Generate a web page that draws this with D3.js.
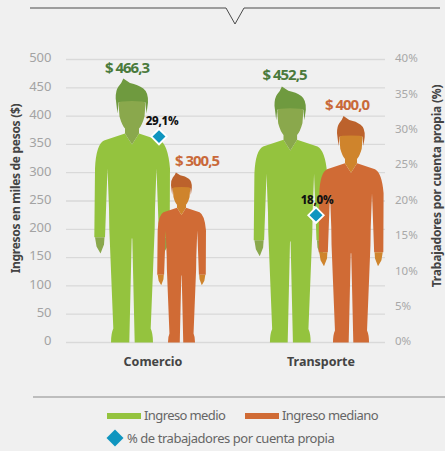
<!DOCTYPE html>
<html><head><meta charset="utf-8">
<script src="https://cdn.jsdelivr.net/npm/d3@7"></script>
<style>html,body{margin:0;padding:0;background:#f0f0f0}svg{display:block}text{font-family:"Noto Sans",sans-serif}</style>
</head><body><svg id="c" width="445" height="451"></svg>
<script>
const categories = ["Comercio","Transporte"];
const ingresoMedio = [466.3,452.5];
const ingresoMediano = [300.5,400.0];
const cuentaPropia = [29.1,18.0];
const leftTicks = [0,50,100,150,200,250,300,350,400,450,500];
const rightTicks = [0,5,10,15,20,25,30,35,40];
const fmtMoney = v => "$ " + v.toFixed(1).replace(".",",");
const fmtPct = v => v.toFixed(1).replace(".",",") + "%";

const svg = d3.select("#c");
const yL = d3.scaleLinear().domain([0,500]).range([342.5,59.5]);
const yR = d3.scaleLinear().domain([0,40]).range([342.5,59.5]);

// figure template: a person of 264 units high, feet at 264, top at 0
const FIG_H = 264;
const shape = {
  body:"M-7,55 L-28,62 Q-36,66 -37,90 L-37.7,158.7 L-27,158.7 L-24.5,90 L-23,130 L-22.7,150 L-18.7,250 Q-21,255 -21,264 L-2.7,264 L-.3,160 L.3,160 L2.7,264 L21,264 Q21,255 18.7,250 L22.7,150 L23,130 L24.5,90 L27,158.7 L37.7,158.7 L38,90 Q36,66 28,62 L7,55 L0,66 Z",
  skin:"M-13.5,25 Q-13,23 -10,23 Q0,22 10,23 Q13,23 13.5,25 L12.5,38 Q10,47 7,50 L7,55 L0,66 L-7,55 L-7,50 Q-10,47 -12.5,38 Z M-37,158.7 L-27.5,158.7 L-28,166 L-31.5,175 L-35.5,168 Z M37,158.7 L27.5,158.7 L28,166 L31.5,175 L35.5,168 Z",
  hair:"M-8.7,0 L-2,4.5 Q6,6 11.3,10 Q16.5,14 16,24 L14.5,35 L13.5,24 L-13.5,24 L-14.5,35 L-16.3,20 Q-16.5,12 -13.5,8 Q-10.5,5 -8.7,0 Z"
};
const palette = {
  medio:{body:"#94c33e",skin:"#8aa84c",hair:"#6f9a3f",label:"#4a7a3c"},
  mediano:{body:"#d06b35",skin:"#cf842c",hair:"#bc622c",label:"#c9693a"}
};
// horizontal layout of the figures and labels
const figX = d3.scaleOrdinal().domain(["Comercio/medio","Comercio/mediano","Transporte/medio","Transporte/mediano"]).range([132,181.5,290.3,351]);
const labX = d3.scaleOrdinal().domain(figX.domain()).range([127,197,284.5,347]);
const catX = d3.scaleOrdinal().domain(categories).range([153,321]);
const diaX = d3.scaleOrdinal().domain(categories).range([159,316]);
const diaLabX = d3.scaleOrdinal().domain(categories).range([162,317]);

// frame lines
svg.append("path").attr("d","M30,8 H226 L235,24 L244,8 H440").attr("fill","none").attr("stroke","#4a4a4a").attr("stroke-width",1);
svg.append("line").attr("x1",33).attr("x2",445).attr("y1",397).attr("y2",397).attr("stroke","#8a8a8a").attr("stroke-width",1.2);

// grid
svg.append("g").selectAll("line").data(leftTicks).join("line")
  .attr("x1",66).attr("x2",385).attr("y1",d=>yL(d)).attr("y2",d=>yL(d))
  .attr("stroke","#d9d9d9").attr("stroke-width",1.3);

// axes
svg.append("g").selectAll("text").data(leftTicks).join("text")
  .attr("x",51.5).attr("y",d=>yL(d)+2.8).attr("text-anchor","end")
  .attr("font-size",13).attr("fill","#a3a3a3").text(d=>d);
svg.append("g").selectAll("text").data(rightTicks).join("text")
  .attr("x",395).attr("y",d=>yR(d)+2.8).attr("font-size",11.5)
  .attr("fill","#a8a8a8").text(d=>d+"%");
svg.append("text").attr("transform","translate(20,188.5) rotate(-90)").attr("text-anchor","middle")
  .attr("font-size",12).attr("font-weight",700).attr("fill","#444").attr("letter-spacing",-0.3).text("Ingresos en miles de pesos ($)");
svg.append("text").attr("transform","translate(441,186) rotate(-90)").attr("text-anchor","middle")
  .attr("font-size",12).attr("font-weight",700).attr("fill","#444").attr("letter-spacing",-0.2).text("Trabajadores por cuenta propia (%)");

// figures
function person(cat,key,v){
  const top = yL(v), s = (yL(0)-top)/FIG_H, p = palette[key];
  const g = svg.append("g").attr("transform",`translate(${figX(cat+"/"+key)},${top}) scale(${s})`);
  g.append("path").attr("d",shape.body).attr("fill",p.body);
  g.append("path").attr("d",shape.hair).attr("fill",p.hair);
  g.append("path").attr("d",shape.skin).attr("fill",p.skin);
}
categories.forEach((c,i)=>{ person(c,"medio",ingresoMedio[i]); person(c,"mediano",ingresoMediano[i]); });

// value labels
const money = (c,key,v)=>svg.append("text").attr("x",labX(c+"/"+key)).attr("y",yL(v)-6)
  .attr("text-anchor","middle").attr("font-size",15).attr("font-weight",700).attr("letter-spacing",-1)
  .attr("fill",palette[key].label).text(fmtMoney(v));
categories.forEach((c,i)=>{ money(c,"medio",ingresoMedio[i]); money(c,"mediano",ingresoMediano[i]); });

// diamonds
const diamond = d3.symbol().type(d3.symbolSquare).size(120);
const legendDiamond = d3.symbol().type(d3.symbolSquare).size(144);
categories.forEach((c,i)=>{
  svg.append("path").attr("d",diamond()).attr("transform",`translate(${diaX(c)},${yR(cuentaPropia[i])}) rotate(45)`)
    .attr("fill","#0f95bf").attr("stroke","#fff").attr("stroke-width",1.8);
  svg.append("text").attr("x",diaLabX(c)).attr("y",yR(cuentaPropia[i])-11.5).attr("text-anchor","middle")
    .attr("font-size",11.5).attr("font-weight",800).attr("fill","#111").attr("letter-spacing",-0.3).text(fmtPct(cuentaPropia[i]));
});

// categories
svg.append("g").selectAll("text").data(categories).join("text")
  .attr("x",d=>catX(d)).attr("y",365.5).attr("text-anchor","middle")
  .attr("font-size",12.5).attr("font-weight",700).attr("fill","#444").text(d=>d);

// legend
svg.append("rect").attr("x",107).attr("y",413).attr("width",34).attr("height",6).attr("fill",palette.medio.body);
svg.append("text").attr("x",144).attr("y",420).attr("font-size",13).attr("fill","#666").attr("letter-spacing",-0.6).text("Ingreso medio");
svg.append("rect").attr("x",245).attr("y",413).attr("width",34).attr("height",6).attr("fill",palette.mediano.body);
svg.append("text").attr("x",282).attr("y",420).attr("font-size",13).attr("fill","#666").attr("letter-spacing",-0.55).text("Ingreso mediano");
svg.append("path").attr("d",legendDiamond()).attr("transform","translate(115,438) rotate(45)").attr("fill","#0f95bf");
svg.append("text").attr("x",127).attr("y",443).attr("font-size",13).attr("fill","#666").attr("letter-spacing",-0.45).text("% de trabajadores por cuenta propia");
</script></body></html>
